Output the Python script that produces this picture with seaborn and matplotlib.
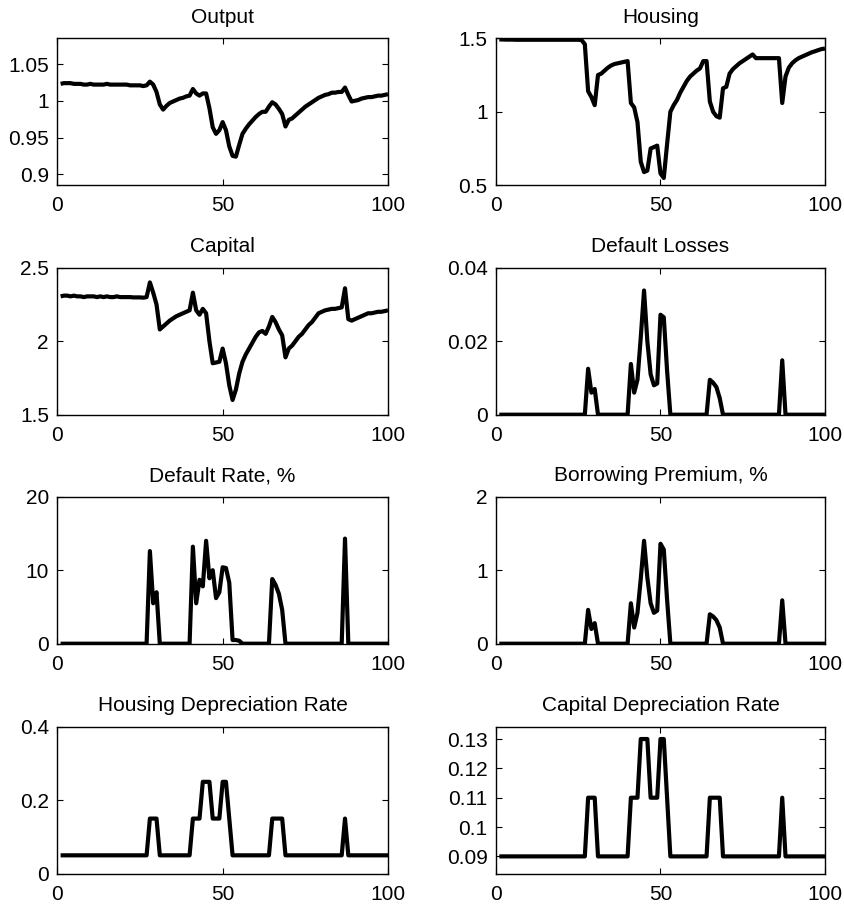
import numpy as np
import pandas as pd
import seaborn as sns
import matplotlib.pyplot as plt

# periods 1..100
t = list(range(1, 101))

output = [
    1.023, 1.024, 1.024, 1.024, 1.023, 1.023, 1.023, 1.022, 1.022, 1.023,
    1.022, 1.022, 1.022, 1.022, 1.023, 1.022, 1.022, 1.022, 1.022, 1.022,
    1.022, 1.021, 1.021, 1.021, 1.021, 1.020, 1.021, 1.026, 1.022, 1.012,
    0.995, 0.988, 0.993, 0.997, 0.999, 1.001, 1.003, 1.004, 1.006, 1.007,
    1.016, 1.010, 1.007, 1.010, 1.010, 0.990, 0.964, 0.955, 0.960, 0.971,
    0.960, 0.938, 0.925, 0.924, 0.940, 0.955, 0.962, 0.968, 0.973, 0.978,
    0.982, 0.985, 0.985, 0.992, 0.998, 0.995, 0.989, 0.982, 0.965, 0.974,
    0.976, 0.980, 0.984, 0.988, 0.992, 0.995, 0.998, 1.001, 1.004, 1.006,
    1.008, 1.009, 1.011, 1.011, 1.012, 1.012, 1.018, 1.008, 0.999, 1.000,
    1.001, 1.003, 1.004, 1.005, 1.005, 1.006, 1.007, 1.007, 1.008, 1.009,
]

housing = [
    1.492, 1.492, 1.491, 1.491, 1.491, 1.490, 1.490, 1.490, 1.490, 1.490,
    1.490, 1.490, 1.490, 1.490, 1.490, 1.490, 1.490, 1.490, 1.490, 1.490,
    1.490, 1.490, 1.490, 1.490, 1.490, 1.488, 1.460, 1.140, 1.100, 1.045,
    1.250, 1.260, 1.280, 1.300, 1.315, 1.325, 1.330, 1.335, 1.340, 1.345,
    1.060, 1.030, 0.930, 0.660, 0.590, 0.600, 0.750, 0.760, 0.770, 0.580,
    0.550, 0.780, 1.000, 1.045, 1.080, 1.130, 1.170, 1.210, 1.240, 1.260,
    1.280, 1.295, 1.345, 1.345, 1.070, 1.000, 0.970, 0.960, 1.160, 1.170,
    1.260, 1.290, 1.310, 1.330, 1.345, 1.360, 1.375, 1.390, 1.365, 1.365,
    1.365, 1.365, 1.365, 1.365, 1.365, 1.365, 1.060, 1.240, 1.300, 1.330,
    1.350, 1.365, 1.375, 1.385, 1.395, 1.405, 1.412, 1.420, 1.427, 1.430,
]

capital = [
    2.305, 2.310, 2.310, 2.305, 2.310, 2.305, 2.305, 2.300, 2.305, 2.305,
    2.305, 2.300, 2.305, 2.300, 2.305, 2.300, 2.300, 2.305, 2.300, 2.300,
    2.300, 2.300, 2.298, 2.298, 2.298, 2.296, 2.300, 2.400, 2.330, 2.250,
    2.080, 2.100, 2.120, 2.140, 2.155, 2.170, 2.180, 2.190, 2.200, 2.210,
    2.330, 2.210, 2.180, 2.220, 2.190, 2.000, 1.850, 1.855, 1.860, 1.950,
    1.850, 1.700, 1.600, 1.670, 1.780, 1.860, 1.910, 1.950, 1.990, 2.030,
    2.060, 2.070, 2.050, 2.100, 2.165, 2.130, 2.080, 2.040, 1.890, 1.950,
    1.970, 2.000, 2.030, 2.050, 2.080, 2.110, 2.130, 2.160, 2.190, 2.200,
    2.210, 2.215, 2.220, 2.220, 2.225, 2.230, 2.360, 2.150, 2.140, 2.150,
    2.160, 2.170, 2.180, 2.190, 2.190, 2.195, 2.200, 2.200, 2.205, 2.210,
]

default_losses = [
    0, 0, 0, 0, 0, 0, 0, 0, 0, 0,
    0, 0, 0, 0, 0, 0, 0, 0, 0, 0,
    0, 0, 0, 0, 0, 0, 0, 0.0125, 0.006, 0.007,
    0, 0, 0, 0, 0, 0, 0, 0, 0, 0,
    0.0138, 0.006, 0.0095, 0.021, 0.0338, 0.020, 0.011, 0.008, 0.0085, 0.0272,
    0.0265, 0.012, 0, 0, 0, 0, 0, 0, 0, 0,
    0, 0, 0, 0, 0.0095, 0.0087, 0.0075, 0.0045, 0, 0,
    0, 0, 0, 0, 0, 0, 0, 0, 0, 0,
    0, 0, 0, 0, 0, 0, 0.0148, 0, 0, 0,
    0, 0, 0, 0, 0, 0, 0, 0, 0, 0,
]

default_rate = [
    0, 0, 0, 0, 0, 0, 0, 0, 0, 0,
    0, 0, 0, 0, 0, 0, 0, 0, 0, 0,
    0, 0, 0, 0, 0, 0, 0, 12.6, 5.5, 7.0,
    0, 0, 0, 0, 0, 0, 0, 0, 0, 0,
    13.2, 5.5, 8.7, 7.8, 14.0, 8.9, 10.0, 6.2, 7.0, 10.4,
    10.3, 8.3, 0.5, 0.5, 0.4, 0, 0, 0, 0, 0,
    0, 0, 0, 0, 8.8, 8.0, 6.8, 4.6, 0, 0,
    0, 0, 0, 0, 0, 0, 0, 0, 0, 0,
    0, 0, 0, 0, 0, 0, 14.3, 0, 0, 0,
    0, 0, 0, 0, 0, 0, 0, 0, 0, 0,
]

borrowing_premium = [
    0, 0, 0, 0, 0, 0, 0, 0, 0, 0,
    0, 0, 0, 0, 0, 0, 0, 0, 0, 0,
    0, 0, 0, 0, 0, 0, 0, 0.46, 0.20, 0.28,
    0, 0, 0, 0, 0, 0, 0, 0, 0, 0,
    0.55, 0.22, 0.42, 0.88, 1.40, 0.90, 0.55, 0.42, 0.45, 1.36,
    1.28, 0.60, 0, 0, 0, 0, 0, 0, 0, 0,
    0, 0, 0, 0, 0.40, 0.37, 0.32, 0.22, 0, 0,
    0, 0, 0, 0, 0, 0, 0, 0, 0, 0,
    0, 0, 0, 0, 0, 0, 0.59, 0, 0, 0,
    0, 0, 0, 0, 0, 0, 0, 0, 0, 0,
]

housing_dep = [
    0.05, 0.05, 0.05, 0.05, 0.05, 0.05, 0.05, 0.05, 0.05, 0.05,
    0.05, 0.05, 0.05, 0.05, 0.05, 0.05, 0.05, 0.05, 0.05, 0.05,
    0.05, 0.05, 0.05, 0.05, 0.05, 0.05, 0.05, 0.15, 0.15, 0.15,
    0.05, 0.05, 0.05, 0.05, 0.05, 0.05, 0.05, 0.05, 0.05, 0.05,
    0.15, 0.15, 0.15, 0.25, 0.25, 0.25, 0.15, 0.15, 0.15, 0.25,
    0.25, 0.15, 0.05, 0.05, 0.05, 0.05, 0.05, 0.05, 0.05, 0.05,
    0.05, 0.05, 0.05, 0.05, 0.15, 0.15, 0.15, 0.15, 0.05, 0.05,
    0.05, 0.05, 0.05, 0.05, 0.05, 0.05, 0.05, 0.05, 0.05, 0.05,
    0.05, 0.05, 0.05, 0.05, 0.05, 0.05, 0.15, 0.05, 0.05, 0.05,
    0.05, 0.05, 0.05, 0.05, 0.05, 0.05, 0.05, 0.05, 0.05, 0.05,
]

capital_dep = [
    0.09, 0.09, 0.09, 0.09, 0.09, 0.09, 0.09, 0.09, 0.09, 0.09,
    0.09, 0.09, 0.09, 0.09, 0.09, 0.09, 0.09, 0.09, 0.09, 0.09,
    0.09, 0.09, 0.09, 0.09, 0.09, 0.09, 0.09, 0.11, 0.11, 0.11,
    0.09, 0.09, 0.09, 0.09, 0.09, 0.09, 0.09, 0.09, 0.09, 0.09,
    0.11, 0.11, 0.11, 0.13, 0.13, 0.13, 0.11, 0.11, 0.11, 0.13,
    0.13, 0.11, 0.09, 0.09, 0.09, 0.09, 0.09, 0.09, 0.09, 0.09,
    0.09, 0.09, 0.09, 0.09, 0.11, 0.11, 0.11, 0.11, 0.09, 0.09,
    0.09, 0.09, 0.09, 0.09, 0.09, 0.09, 0.09, 0.09, 0.09, 0.09,
    0.09, 0.09, 0.09, 0.09, 0.09, 0.09, 0.11, 0.09, 0.09, 0.09,
    0.09, 0.09, 0.09, 0.09, 0.09, 0.09, 0.09, 0.09, 0.09, 0.09,
]

titles = ["Output", "Housing", "Capital", "Default Losses",
          "Default Rate, %", "Borrowing Premium, %",
          "Housing Depreciation Rate", "Capital Depreciation Rate"]
series = [output, housing, capital, default_losses,
          default_rate, borrowing_premium, housing_dep, capital_dep]
ylims = [(0.885, 1.085), (0.5, 1.5), (1.5, 2.5), (0, 0.04),
         (0, 20), (0, 2), (0, 0.4), (0.0841, 0.1342)]
yticks = [[0.9, 0.95, 1, 1.05], [0.5, 1, 1.5], [1.5, 2, 2.5], [0, 0.02, 0.04],
          [0, 10, 20], [0, 1, 2], [0, 0.2, 0.4], [0.09, 0.1, 0.11, 0.12, 0.13]]
yticklabels = [["0.9", "0.95", "1", "1.05"], ["0.5", "1", "1.5"], ["1.5", "2", "2.5"],
               ["0", "0.02", "0.04"], ["0", "10", "20"], ["0", "1", "2"],
               ["0", "0.2", "0.4"], ["0.09", "0.1", "0.11", "0.12", "0.13"]]
xticks = [0, 50, 100]
xticklabels = ["0", "50", "100"]

sns.set_style("ticks")
plt.rcParams["font.family"] = ["Liberation Sans", "DejaVu Sans"]
plt.rcParams["text.color"] = "black"

fig = plt.figure(figsize=(8.45, 9.09), dpi=100)

# axes placement in pixels (left edge per column, top edge per row)
W, H = 845, 909
col_left = [57.3, 496.0]
col_width = [330.7, 329.0]
row_top = [38.3, 267.7, 496.7, 726.7]
ax_h = 147.0

for i in range(8):
    r, c = divmod(i, 2)
    ax = fig.add_axes([col_left[c] / W, 1 - (row_top[r] + ax_h) / H,
                       col_width[c] / W, ax_h / H])
    df = pd.DataFrame({"t": t, "v": series[i]})
    sns.lineplot(data=df, x="t", y="v", ax=ax, color="black", linewidth=3.0,
                 solid_joinstyle="round", solid_capstyle="butt")
    ax.set_xlim(0, 100)
    ax.set_ylim(*ylims[i])
    ax.set_xticks(xticks)
    ax.set_xticklabels(xticklabels)
    ax.set_yticks(yticks[i])
    ax.set_yticklabels(yticklabels[i])
    ax.set_xlabel("")
    ax.set_ylabel("")
    ax.set_title(titles[i], fontsize=15, pad=11, color="black")
    for s in ax.spines.values():
        s.set_visible(True)
        s.set_linewidth(1.0)
        s.set_color("black")
    ax.tick_params(direction="in", length=4, width=0.8, top=True, right=True,
                   labelsize=15, colors="black")
    ax.tick_params(axis="x", pad=8)
    ax.tick_params(axis="y", pad=6)

fig.savefig("out.png", dpi=100)
